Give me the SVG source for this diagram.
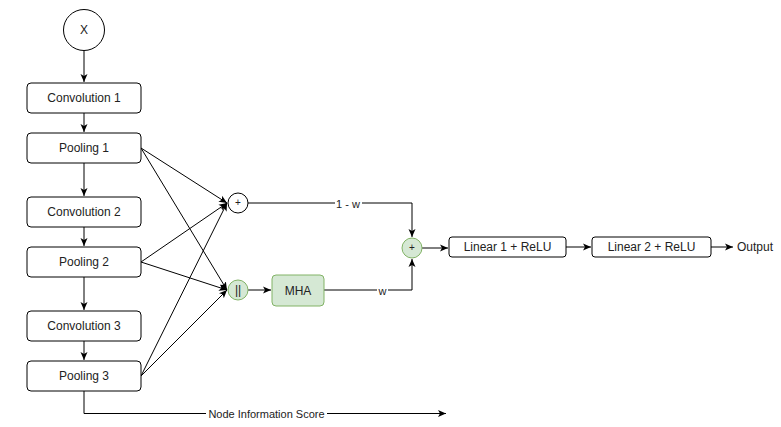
<svg xmlns="http://www.w3.org/2000/svg" width="781" height="427" viewBox="0 0 781 427">
<defs>
<marker id="arr" markerWidth="10" markerHeight="10" refX="8" refY="4" orient="auto" markerUnits="userSpaceOnUse">
<path d="M0,0.5 L8,4 L0,7.5 L2,4 z" fill="#000"/>
</marker>
<style>
.box{fill:#fff;stroke:#000;stroke-width:1}
.grn{fill:#d5e8d4;stroke:#82b366;stroke-width:1}
.t{font-family:"Liberation Sans",Arial,sans-serif;font-size:12px;fill:#222;text-anchor:middle;dominant-baseline:central}
.lbl{font-family:"Liberation Sans",Arial,sans-serif;font-size:11px;fill:#222;text-anchor:middle;dominant-baseline:central}
.e{fill:none;stroke:#000;stroke-width:1}
</style>
</defs>
<rect width="781" height="427" fill="#fff"/>
<g id="connectors">
<path class="e" d="M84,51 V82" marker-end="url(#arr)"/>
<path class="e" d="M84,113 V132" marker-end="url(#arr)"/>
<path class="e" d="M84,163 V196" marker-end="url(#arr)"/>
<path class="e" d="M84,227 V246" marker-end="url(#arr)"/>
<path class="e" d="M84,277 V310" marker-end="url(#arr)"/>
<path class="e" d="M84,341 V360" marker-end="url(#arr)"/>
<path class="e" d="M141,148 L227,203" marker-end="url(#arr)"/>
<path class="e" d="M141,148 L227,290" marker-end="url(#arr)"/>
<path class="e" d="M141,262 L227,203" marker-end="url(#arr)"/>
<path class="e" d="M141,262 L227,290" marker-end="url(#arr)"/>
<path class="e" d="M141,376 L227,203" marker-end="url(#arr)"/>
<path class="e" d="M141,376 L227,290" marker-end="url(#arr)"/>
<path class="e" d="M248,290 H271" marker-end="url(#arr)"/>
<path class="e" d="M248,203 H412 V237" marker-end="url(#arr)"/>
<path class="e" d="M324,290 H412 V259" marker-end="url(#arr)"/>
<path class="e" d="M422,248 H448" marker-end="url(#arr)"/>
<path class="e" d="M566,247 H591" marker-end="url(#arr)"/>
<path class="e" d="M711,247 H733" marker-end="url(#arr)"/>
<path class="e" d="M84,391 V413.5 H446" marker-end="url(#arr)"/>
<rect x="335" y="197" width="27" height="12" fill="#fff"/>
<text class="lbl" x="348" y="203.5">1 - w</text>
<rect x="377" y="284" width="11" height="12" fill="#fff"/>
<text class="lbl" x="382.5" y="290.5">w</text>
<rect x="206" y="407" width="121" height="13" fill="#fff"/>
<text class="lbl" x="266.5" y="413.5">Node Information Score</text>
</g>
<g id="x"><circle cx="84" cy="30" r="20.5" class="box"/><text class="t" x="84" y="30">X</text></g>
<g id="conv1"><rect x="27" y="83" width="114" height="30" rx="4" class="box"/><text class="t" x="84" y="98">Convolution 1</text></g>
<g id="pool1"><rect x="27" y="133" width="114" height="30" rx="4" class="box"/><text class="t" x="84" y="148">Pooling 1</text></g>
<g id="conv2"><rect x="27" y="197" width="114" height="30" rx="4" class="box"/><text class="t" x="84" y="212">Convolution 2</text></g>
<g id="pool2"><rect x="27" y="247" width="114" height="30" rx="4" class="box"/><text class="t" x="84" y="262">Pooling 2</text></g>
<g id="conv3"><rect x="27" y="311" width="114" height="30" rx="4" class="box"/><text class="t" x="84" y="326">Convolution 3</text></g>
<g id="pool3"><rect x="27" y="361" width="114" height="30" rx="4" class="box"/><text class="t" x="84" y="376">Pooling 3</text></g>
<g id="plus"><circle cx="238" cy="203" r="10" class="box"/><text class="t" x="238" y="202.5" style="font-size:10px">+</text></g>
<g id="concat"><circle cx="238" cy="290" r="10" class="grn"/><text class="t" x="238" y="290">||</text></g>
<g id="mha"><rect x="272" y="275" width="52" height="31" rx="4" class="grn"/><text class="t" x="298" y="290.5">MHA</text></g>
<g id="sum"><circle cx="412" cy="248" r="10" class="grn"/><text class="t" x="412" y="247.5" style="font-size:10px">+</text></g>
<g id="lin1"><rect x="449" y="237" width="117" height="20" rx="3" class="box"/><text class="t" x="507.5" y="247">Linear 1 + ReLU</text></g>
<g id="lin2"><rect x="592" y="237" width="119" height="20" rx="3" class="box"/><text class="t" x="651.5" y="247">Linear 2 + ReLU</text></g>
<g id="output"><text class="t" x="737" y="247" style="text-anchor:start">Output</text></g>
</svg>
